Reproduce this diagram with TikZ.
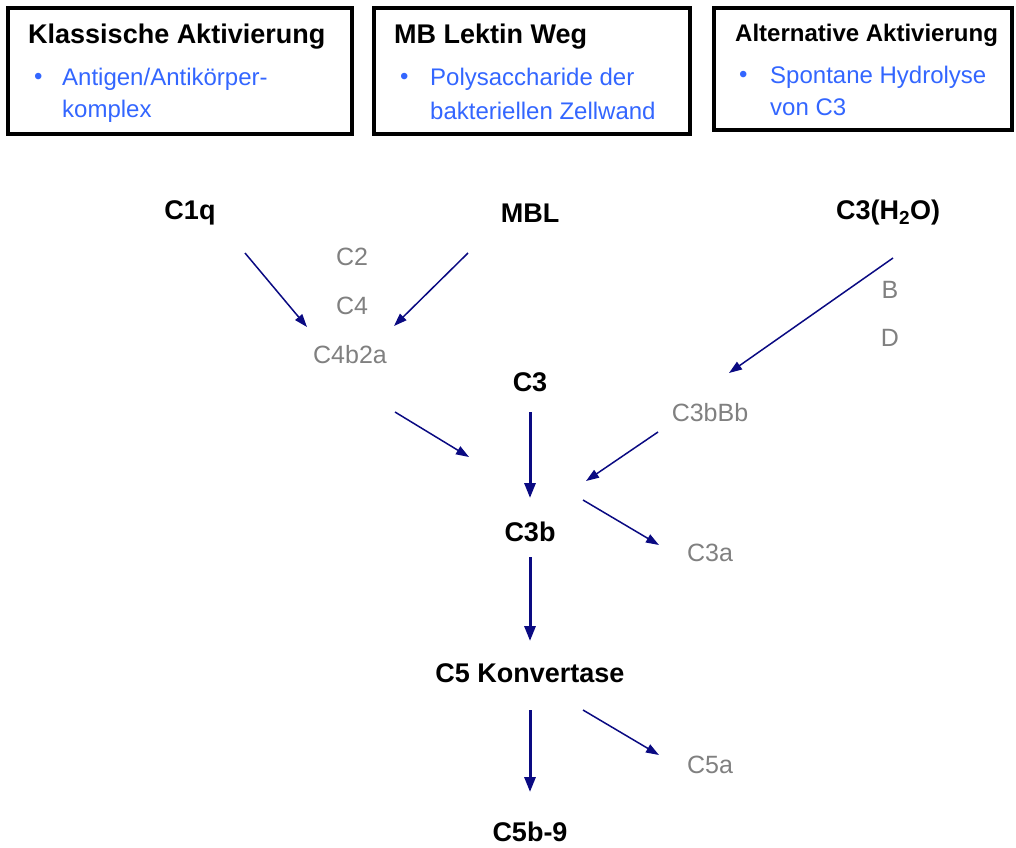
\documentclass[tikz,border=0pt]{standalone}
\usepackage{fontspec}
\setmainfont{Liberation Sans}
\usetikzlibrary{arrows.meta,calc}
\definecolor{navyarrow}{RGB}{10,10,130}
\definecolor{graytext}{RGB}{128,128,128}
\definecolor{bluetext}{RGB}{51,102,255}
\tikzset{
  pathbox/.style={draw=black, line width=4pt},
  boxtitle/.style={anchor=west, inner sep=0pt, font=\fontsize{27}{32}\selectfont\bfseries},
  bullettext/.style={anchor=west, inner sep=0pt, text=bluetext, font=\fontsize{24}{29}\selectfont},
  mainnode/.style={inner sep=2pt, font=\fontsize{27}{32}\selectfont\bfseries},
  sidenode/.style={inner sep=2pt, text=graytext, font=\fontsize{25}{30}\selectfont},
  thinarrow/.style={draw=navyarrow, line width=1.5pt, -{Triangle[length=13pt,width=9pt]}},
  thickarrow/.style={draw=navyarrow, line width=3pt, -{Triangle[length=15pt,width=11pt]}}
}
\begin{document}
\begin{tikzpicture}[x=1pt,y=-1pt]
\useasboundingbox (0,0) rectangle (1016,847);
% top boxes
\draw[pathbox] (8,8) rectangle (352,134);
\draw[pathbox] (374,8) rectangle (690,134);
\draw[pathbox] (714,8) rectangle (1012,130);
\node[boxtitle] (t1) at (28,37) {Klassische Aktivierung};
\node[boxtitle] (t2) at (394,37) {MB Lektin Weg};
\node[boxtitle, font=\fontsize{24}{29}\selectfont\bfseries] (t3) at (735,35) {Alternative Aktivierung};
\node[bullettext] (b1) at (34,79) {•};
\node[bullettext] (l1a) at (62,79) {Antigen/Antikörper-};
\node[bullettext] (l1b) at (62,111) {komplex};
\node[bullettext] (b2) at (400,79) {•};
\node[bullettext] (l2a) at (430,79) {Polysaccharide der};
\node[bullettext] (l2b) at (430,111) {bakteriellen Zellwand};
\node[bullettext] (b3) at (739,77) {•};
\node[bullettext] (l3a) at (770,77) {Spontane Hydrolyse};
\node[bullettext] (l3b) at (770,107) {von C3};
% main nodes
\node[mainnode] (c1q) at (190,213) {C1q};
\node[mainnode] (mbl) at (530,213) {MBL};
\node[mainnode] (c3h) at (888,213) {C3(H\textsubscript{2}O)};
\node[sidenode] (c2) at (352,257) {C2};
\node[sidenode] (c4) at (352,306) {C4};
\node[sidenode] (c4b2a) at (350,355) {C4b2a};
\node[sidenode] (b) at (890,290) {B};
\node[sidenode] (d) at (890,338) {D};
\node[mainnode] (c3) at (530,382) {C3};
\node[sidenode] (c3bbb) at (710,413) {C3bBb};
\node[mainnode] (c3b) at (530,532) {C3b};
\node[sidenode] (c3a) at (710,553) {C3a};
\node[mainnode] (c5k) at (530,673) {C5 Konvertase};
\node[sidenode] (c5a) at (710,765) {C5a};
\node[mainnode] (c5b9) at (530,832) {C5b-9};
% connector coordinates
\coordinate (a1s) at (245,253); \coordinate (a1e) at (307,327);
\coordinate (a2s) at (468,253); \coordinate (a2e) at (394,326);
\coordinate (a3s) at (893,258); \coordinate (a3e) at (729,373);
\coordinate (a4s) at (395,412); \coordinate (a4e) at (469,457);
\coordinate (a6s) at (658,432); \coordinate (a6e) at (586,481);
\coordinate (a7s) at (583,500); \coordinate (a7e) at (659,545);
\coordinate (a9s) at (583,710); \coordinate (a9e) at (659,755);
\draw[thinarrow] (a1s) -- (a1e);
\draw[thinarrow] (a2s) -- (a2e);
\draw[thinarrow] (a3s) -- (a3e);
\draw[thinarrow] (a4s) -- (a4e);
\draw[thinarrow] (a6s) -- (a6e);
\draw[thinarrow] (a7s) -- (a7e);
\draw[thinarrow] (a9s) -- (a9e);
\draw[thickarrow] ($(c3)+(0,30)$) -- ($(c3b)+(0,-34)$);
\draw[thickarrow] ($(c3b)+(0,25)$) -- ($(c5k)+(0,-32)$);
\draw[thickarrow] ($(c5k)+(0,37)$) -- ($(c5b9)+(0,-40)$);
\end{tikzpicture}
\end{document}
